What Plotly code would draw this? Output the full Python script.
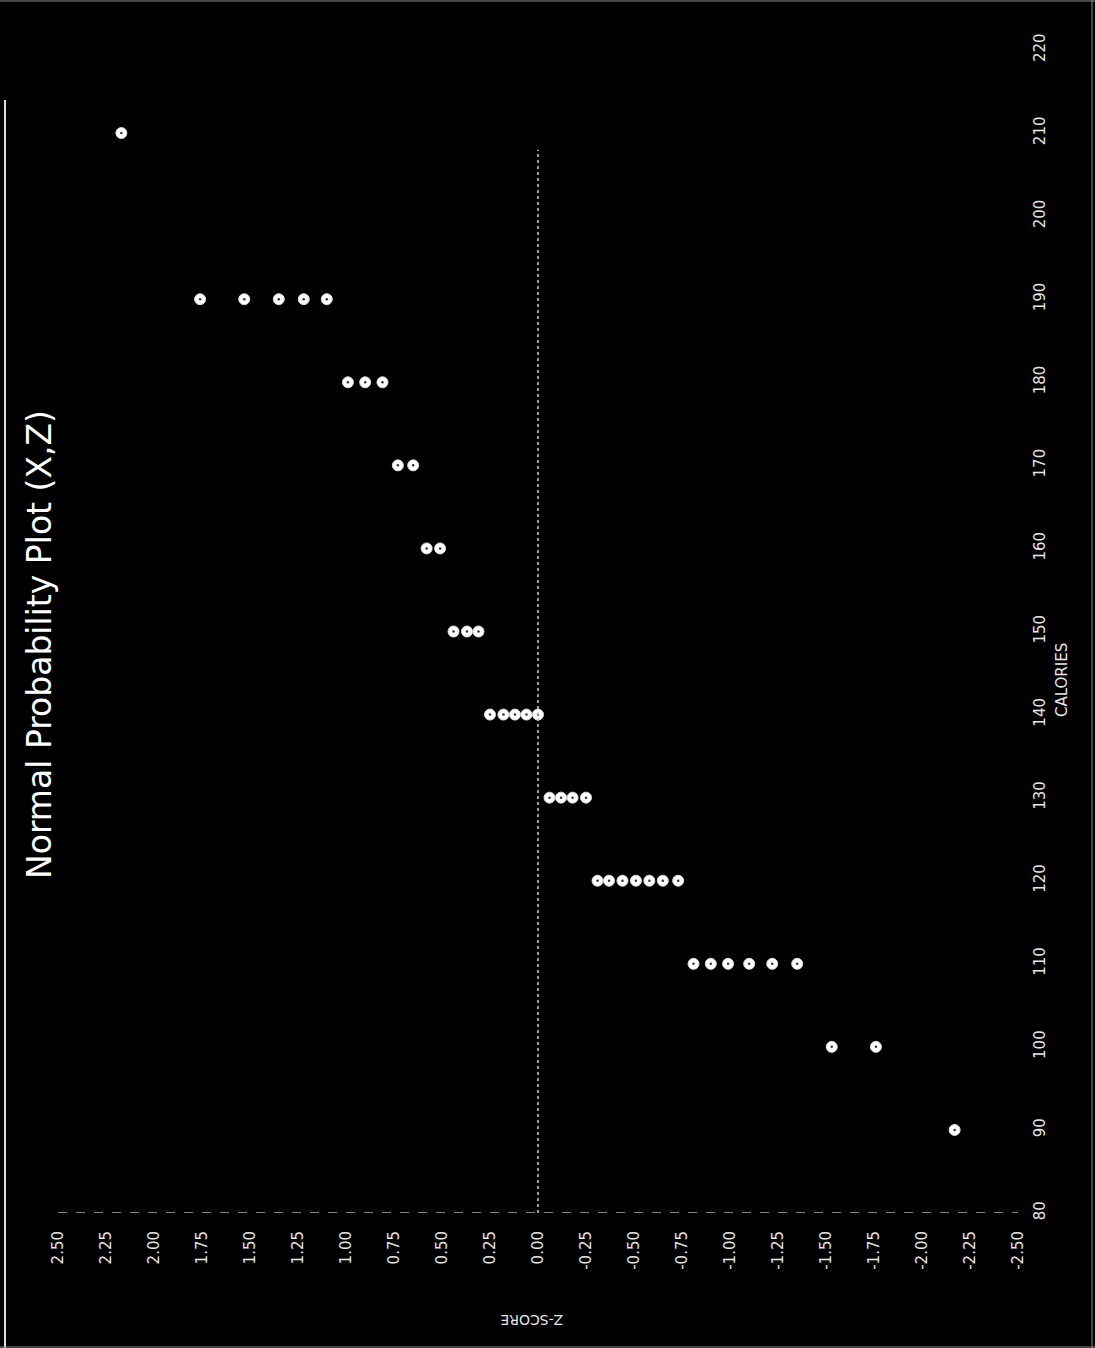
import plotly.graph_objects as go

# ---- data ----
calories = [90,
            100, 100,
            110, 110, 110, 110, 110, 110,
            120, 120, 120, 120, 120, 120, 120,
            130, 130, 130, 130,
            140, 140, 140, 140, 140,
            150, 150, 150,
            160, 160,
            170, 170,
            180, 180, 180,
            190, 190, 190, 190, 190,
            210]
z_scores = [-2.17,
            -1.76, -1.53,
            -1.35, -1.22, -1.10, -0.99, -0.90, -0.81,
            -0.73, -0.65, -0.58, -0.51, -0.44, -0.37, -0.31,
            -0.25, -0.18, -0.12, -0.06,
            0.00, 0.06, 0.12, 0.18, 0.25,
            0.31, 0.37, 0.44,
            0.51, 0.58,
            0.65, 0.73,
            0.81, 0.90, 0.99,
            1.10, 1.22, 1.35, 1.53, 1.76,
            2.17]
z_ticks = [2.50, 2.25, 2.00, 1.75, 1.50, 1.25, 1.00, 0.75, 0.50, 0.25, 0.00,
           -0.25, -0.50, -0.75, -1.00, -1.25, -1.50, -1.75, -2.00, -2.25, -2.50]
cal_ticks = [80, 90, 100, 110, 120, 130, 140, 150, 160, 170, 180, 190, 200, 210, 220]

W, H = 1095, 1348
L, R, T, B = 58, 77, 50, 135
PW, PH = W - L - R, H - T - B


def px(xp):
    return (xp - L) / PW


def py(yp):
    return (H - B - yp) / PH


fig = go.Figure()
fig.add_trace(go.Scatter(
    x=z_scores, y=calories, mode="markers",
    marker=dict(symbol="circle", size=11, color="white",
                line=dict(color="#dddddd", width=1)),
    hoverinfo="skip", showlegend=False))
fig.add_trace(go.Scatter(
    x=z_scores, y=calories, mode="markers",
    marker=dict(symbol="circle", size=2.5, color="#333333"),
    hoverinfo="skip", showlegend=False))

tick_font = dict(family="DejaVu Sans", size=15, color="#e6e6e6")

fig.update_layout(
    width=W, height=H,
    margin=dict(l=L, r=R, t=T, b=B, pad=0),
    paper_bgcolor="black", plot_bgcolor="black",
    showlegend=False,
    xaxis=dict(range=[2.5, -2.5], tickmode="array", tickvals=z_ticks,
               ticktext=[f"{v:.2f}" for v in z_ticks], tickangle=-90,
               tickfont=tick_font, showgrid=False, zeroline=False,
               showline=False, ticks="", ticklabelstandoff=14),
    yaxis=dict(range=[80, 220], tickmode="array", tickvals=cal_ticks,
               ticktext=[str(v) for v in cal_ticks], tickangle=-90,
               side="right", tickfont=tick_font, showgrid=False,
               zeroline=False, showline=False, ticks="",
               ticklabelstandoff=11),
    shapes=[
        # vertical zero line
        dict(type="line", xref="x", yref="y", x0=0, x1=0, y0=80, y1=208,
             line=dict(color="#cfcfcf", width=1.5, dash="dot")),
        # broken bottom axis line
        dict(type="line", xref="x", yref="y", x0=2.5, x1=-2.5, y0=80, y1=80,
             line=dict(color="#b0b0b0", width=1.5, dash="dash")),
        # scan border
        dict(type="line", xref="paper", yref="paper", x0=px(5), x1=px(5),
             y0=py(100), y1=py(1348), line=dict(color="#e0e0e0", width=2)),
        dict(type="line", xref="paper", yref="paper", x0=px(0), x1=px(1095),
             y0=py(1), y1=py(1), line=dict(color="#8a8a8a", width=1)),
        dict(type="line", xref="paper", yref="paper", x0=px(1092), x1=px(1092),
             y0=py(0), y1=py(1348), line=dict(color="#8a8a8a", width=1)),
        dict(type="line", xref="paper", yref="paper", x0=px(0), x1=px(1095),
             y0=py(1347), y1=py(1347), line=dict(color="#8a8a8a", width=1)),
    ],
    annotations=[
        dict(text="Normal Probability Plot (X,Z)", xref="paper", yref="paper",
             x=px(40), y=py(645), xanchor="center", yanchor="middle",
             textangle=-90, showarrow=False,
             font=dict(family="DejaVu Sans", size=33, color="white")),
        dict(text="CALORIES", xref="paper", yref="paper",
             x=px(1062), y=py(680), xanchor="center", yanchor="middle",
             textangle=-90, showarrow=False,
             font=dict(family="DejaVu Sans", size=15, color="#e6e6e6")),
        dict(text="Z-SCORE", xref="paper", yref="paper",
             x=px(532), y=py(1320), xanchor="center", yanchor="middle",
             textangle=180, showarrow=False,
             font=dict(family="DejaVu Sans", size=14, color="#e6e6e6")),
    ],
)

fig.write_html("out.html")
